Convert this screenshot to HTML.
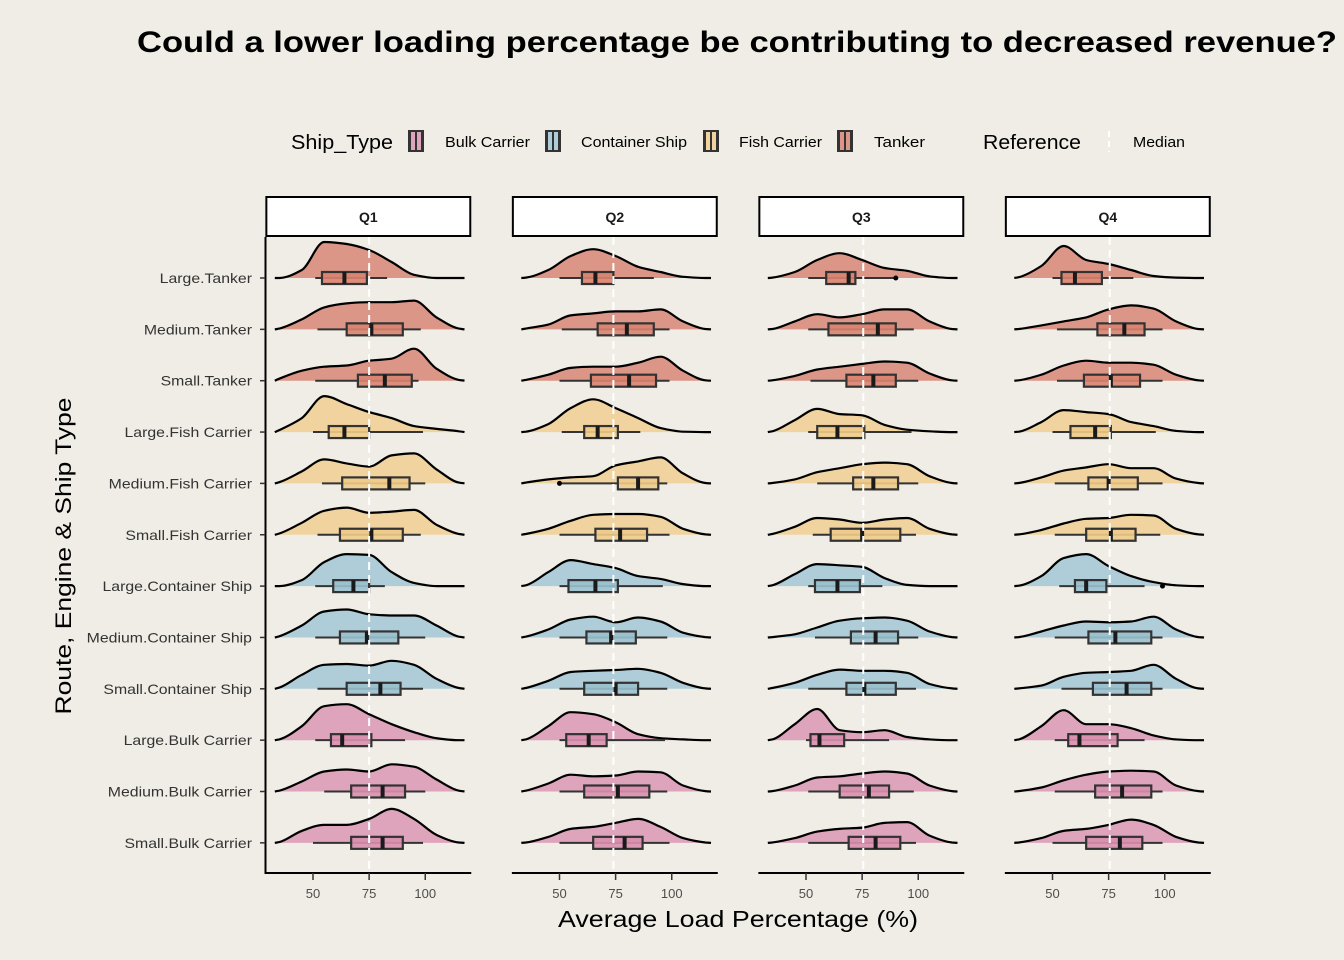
<!DOCTYPE html>
<html><head><meta charset="utf-8">
<style>
html,body{margin:0;padding:0;background:#EFEDE5;}
svg{display:block;font-family:"Liberation Sans",Arial,sans-serif;}
</style></head>
<body>
<svg id="chart" width="1344" height="960" viewBox="0 0 1344 960">
<rect x="0" y="0" width="1344" height="960" fill="#EFEDE5"/>
<text x="137" y="52" font-size="30" font-weight="bold" fill="#000" textLength="1200" lengthAdjust="spacingAndGlyphs">Could a lower loading percentage be contributing to decreased revenue?</text>
<g>
  <text x="291" y="149" font-size="20" fill="#000" textLength="102" lengthAdjust="spacingAndGlyphs">Ship_Type</text>
  <g>
    <rect x="408" y="130" width="16" height="22" fill="#333"/>
    <rect x="411" y="132" width="10" height="18" fill="#DEA4BC"/>
    <line x1="416" y1="132" x2="416" y2="150" stroke="#333" stroke-width="2"/>
    <text x="445" y="147" font-size="15" fill="#000" textLength="85" lengthAdjust="spacingAndGlyphs">Bulk Carrier</text>
  </g>
  <g>
    <rect x="545" y="130" width="16" height="22" fill="#333"/>
    <rect x="548" y="132" width="10" height="18" fill="#AECDD8"/>
    <line x1="553" y1="132" x2="553" y2="150" stroke="#333" stroke-width="2"/>
    <text x="581" y="147" font-size="15" fill="#000" textLength="106" lengthAdjust="spacingAndGlyphs">Container Ship</text>
  </g>
  <g>
    <rect x="703" y="130" width="16" height="22" fill="#333"/>
    <rect x="706" y="132" width="10" height="18" fill="#F0D39F"/>
    <line x1="711" y1="132" x2="711" y2="150" stroke="#333" stroke-width="2"/>
    <text x="739" y="147" font-size="15" fill="#000" textLength="83" lengthAdjust="spacingAndGlyphs">Fish Carrier</text>
  </g>
  <g>
    <rect x="837" y="130" width="16" height="22" fill="#333"/>
    <rect x="840" y="132" width="10" height="18" fill="#DC9687"/>
    <line x1="845" y1="132" x2="845" y2="150" stroke="#333" stroke-width="2"/>
    <text x="874" y="147" font-size="15" fill="#000" textLength="51" lengthAdjust="spacingAndGlyphs">Tanker</text>
  </g>
  <text x="983" y="149" font-size="20" fill="#000" textLength="98" lengthAdjust="spacingAndGlyphs">Reference</text>
  <g>
    <line x1="1109" y1="131" x2="1109" y2="152" stroke="#fff" stroke-width="2" stroke-dasharray="6,4"/>
    <text x="1133" y="147" font-size="15" fill="#000" textLength="52" lengthAdjust="spacingAndGlyphs">Median</text>
  </g>
</g>
<text transform="translate(71,556) rotate(-90)" text-anchor="middle" font-size="22" fill="#000" textLength="317" lengthAdjust="spacingAndGlyphs">Route, Engine &amp; Ship Type</text>
<text x="738" y="927" text-anchor="middle" font-size="23" fill="#000" textLength="360" lengthAdjust="spacingAndGlyphs">Average Load Percentage (%)</text>
<g id="plot"></g>
</svg>
<script>
const quarters = ["Q1","Q2","Q3","Q4"];
const rowLabels = ["Large.Tanker","Medium.Tanker","Small.Tanker","Large.Fish Carrier","Medium.Fish Carrier","Small.Fish Carrier","Large.Container Ship","Medium.Container Ship","Small.Container Ship","Large.Bulk Carrier","Medium.Bulk Carrier","Small.Bulk Carrier"];
const rowTypes = ["Tanker","Tanker","Tanker","Fish","Fish","Fish","Container","Container","Container","Bulk","Bulk","Bulk"];
const densityGrid = [35,45,55,65,75,85,95,105,115];
const xTicks = [50,75,100];
const medianRef = [75,74,75.5,75.5];
const densQ1 = [
[0,.2,.9,.85,.7,.4,.08,0,0],
[.02,.25,.55,.65,.68,.68,.72,.3,.02],
[.05,.25,.35,.38,.5,.55,.8,.3,.02],
[.05,.35,.9,.7,.5,.35,.15,.08,.02],
[.03,.3,.6,.5,.42,.7,.75,.35,.02],
[.03,.3,.6,.68,.55,.58,.62,.25,.02],
[0,.15,.6,.8,.78,.35,.08,0,0],
[.03,.3,.65,.7,.58,.55,.55,.3,.02],
[.03,.35,.6,.62,.58,.7,.6,.25,.02],
[.02,.35,.85,.9,.65,.4,.2,.05,0],
[.02,.25,.5,.55,.5,.68,.62,.3,.02],
[.02,.3,.45,.45,.6,.85,.6,.2,.01]];
const densQ2 = [
[.01,.2,.55,.72,.55,.28,.15,.03,0],
[.02,.12,.35,.4,.45,.45,.5,.2,.01],
[.02,.15,.32,.35,.35,.45,.6,.25,.01],
[.01,.2,.6,.82,.6,.35,.1,.01,0],
[.02,.1,.15,.18,.45,.55,.65,.25,.01],
[.02,.15,.35,.5,.52,.52,.45,.15,.01],
[.02,.35,.65,.55,.45,.25,.18,.05,0],
[.02,.2,.45,.52,.38,.5,.4,.12,.01],
[.02,.2,.42,.45,.47,.5,.4,.15,.01],
[.02,.35,.7,.65,.45,.15,.05,.02,0],
[.02,.2,.42,.38,.4,.5,.48,.15,.01],
[.01,.15,.35,.4,.5,.6,.4,.12,.01]];
const densQ3 = [
[.01,.15,.45,.62,.45,.25,.18,.04,0],
[.01,.2,.38,.3,.38,.5,.5,.2,.01],
[.01,.12,.28,.35,.42,.48,.45,.18,.01],
[.02,.3,.58,.45,.42,.18,.06,.02,0],
[.01,.1,.28,.38,.48,.52,.48,.18,.01],
[.02,.2,.42,.38,.3,.38,.42,.15,.01],
[.02,.3,.55,.52,.48,.2,.03,0,0],
[.01,.08,.25,.42,.48,.5,.42,.15,.01],
[.02,.15,.35,.48,.45,.45,.4,.12,.01],
[.02,.4,.78,.25,.2,.25,.08,.02,0],
[.01,.15,.35,.38,.45,.5,.45,.15,.01],
[.01,.12,.28,.35,.38,.5,.52,.18,.01]];
const densQ4 = [
[.02,.3,.8,.45,.35,.2,.05,.01,0],
[.01,.1,.2,.3,.5,.6,.52,.2,.01],
[.01,.15,.38,.5,.45,.45,.4,.15,.01],
[.01,.25,.55,.5,.45,.25,.15,.03,0],
[.01,.15,.32,.4,.48,.38,.38,.12,.01],
[.01,.12,.28,.4,.42,.5,.48,.15,.01],
[.01,.25,.7,.8,.5,.25,.1,.02,0],
[.01,.15,.3,.4,.38,.4,.52,.2,.01],
[.01,.08,.3,.4,.42,.45,.6,.25,.01],
[.02,.35,.75,.4,.4,.3,.12,.02,0],
[.01,.1,.28,.42,.5,.52,.5,.15,.01],
[.01,.12,.3,.35,.45,.58,.45,.15,.01]];
// box stats: [whiskerLow, q1, median, q3, whiskerHigh]
const boxQ1 = [[51,54,64,74,83],[52,65,76,90,98],[51,70,82,94,97],[50,57,64,75,99],[54,63,84,93,100],[52,62,76,90,98],[51,59,68,75,82],[51,62,74,88,100],[52,65,80,89,99],[51,58,63,76,91],[55,67,81,91,100],[50,67,81,90,99]];
const boxQ2 = [[50,60,66,74,92],[51,67,80,92,99],[50,64,81,93,99],[51,61,67,76,86],[51,76,85,94,98],[50,66,77,89,99],[50,54,66,76,96],[50,62,73,84,98],[50,61,75,85,98],[50,53,63,71,97],[50,61,76,90,98],[50,65,79,87,99]];
const boxQ3 = [[51,59,69,72,89],[51,60,82,90,98],[52,68,80,90,100],[51,55,64,76,97],[55,71,80,91,100],[53,61,75,92,99],[51,54,64,74,84],[54,70,81,91,100],[51,68,76,90,99],[50,52,56,67,87],[51,65,78,87,98],[51,69,81,92,99]];
const boxQ4 = [[50,54,60,72,86],[52,70,82,91,99],[52,64,76,89,99],[50,58,69,76,96],[51,66,75,88,99],[51,65,76,87,98],[53,60,65,74,91],[51,66,78,94,99],[54,68,83,94,99],[51,57,62,79,91],[51,69,81,94,99],[50,65,80,90,99]];
const outliers = [[1,4,50],[2,0,90],[3,6,99]]; // [panelIndex,rowIndex,value]

const dens = [densQ1,densQ2,densQ3,densQ4];
const boxes = [boxQ1,boxQ2,boxQ3,boxQ4];
const fills = {Tanker:"#DC9687",Fish:"#F0D39F",Container:"#AECDD8",Bulk:"#DEA4BC"};
const boxFills = {Tanker:"#D9826F",Fish:"#EFCB8A",Container:"#99C0CE",Bulk:"#D98FAE"};
const NS="http://www.w3.org/2000/svg";
const plot=document.getElementById('plot');
const panelX0=[313,559.5,806,1052.5], pxPerUnit=2.245;
const rowY0=278, rowStep=51.35, hScale=40, yTop=237, yBottom=873;
function xScale(p,v){return panelX0[p]+(v-50)*pxPerUnit;}
function yScale(r){return rowY0+r*rowStep;}
function mk(tag,attrs,parent){const e=document.createElementNS(NS,tag);for(const k in attrs)e.setAttribute(k,attrs[k]);(parent||plot).appendChild(e);return e;}
// monotone cubic (Fritsch-Carlson) path, no overshoot
function monoPath(pts){
 const n=pts.length,dx=[],m=[],t=new Array(n);
 for(let i=0;i<n-1;i++){dx[i]=pts[i+1][0]-pts[i][0];m[i]=(pts[i+1][1]-pts[i][1])/dx[i];}
 t[0]=m[0];t[n-1]=m[n-2];
 for(let i=1;i<n-1;i++){ if(m[i-1]*m[i]<=0)t[i]=0; else {const w1=2*dx[i]+dx[i-1],w2=dx[i]+2*dx[i-1];t[i]=(w1+w2)/(w1/m[i-1]+w2/m[i]);} }
 let d="M"+pts[0][0].toFixed(1)+","+pts[0][1].toFixed(1);
 for(let i=0;i<n-1;i++){const h=dx[i]/3;
  d+=" C"+(pts[i][0]+h).toFixed(1)+","+(pts[i][1]+t[i]*h).toFixed(1)+" "+(pts[i+1][0]-h).toFixed(1)+","+(pts[i+1][1]-t[i+1]*h).toFixed(1)+" "+pts[i+1][0].toFixed(1)+","+pts[i+1][1].toFixed(1);}
 return d;}

const ya=mk('line',{x1:265.5,y1:yTop,x2:265.5,y2:yBottom+1,stroke:"#000","stroke-width":2});


rowLabels.forEach((lab,r)=>{
 const y=yScale(r);
 const t=mk('line',{x1:260,y1:y,x2:265,y2:y,stroke:"#333","stroke-width":1.5});
 
 
 const tx=mk('text',{x:252,y:y+5,"text-anchor":"end","font-size":14,fill:"#333"});
 tx.textContent=lab;
 
 
 const L=tx.getComputedTextLength();
 if(L>0){tx.setAttribute('textLength',(L*1.13).toFixed(1));tx.setAttribute('lengthAdjust','spacingAndGlyphs');}
});

quarters.forEach((q,p)=>{
 const g=mk('g',{});
 
 
 const left=xScale(p,29)-0.5, right=xScale(p,120.5);
 const strip=mk('rect',{x:left+1,y:197,width:right-left-2,height:39,fill:"#fff",stroke:"#000","stroke-width":2},g);
 
 
 const st=mk('text',{x:(left+right)/2,y:222,"text-anchor":"middle","font-size":14,"font-weight":"bold",fill:"#1a1a1a"},g);
 st.textContent=q;
 
 
 const xa=mk('line',{x1:left,y1:yBottom,x2:right,y2:yBottom,stroke:"#000","stroke-width":2},g);
 
 
 xTicks.forEach(v=>{
  const x=xScale(p,v);
  const tk=mk('line',{x1:x,y1:yBottom,x2:x,y2:yBottom+7,stroke:"#333","stroke-width":1.5},g);
  
  
  const tl=mk('text',{x:x,y:898,"text-anchor":"middle","font-size":13,fill:"#4d4d4d"},g);
  tl.textContent=v;
  
  
 });
 rowLabels.forEach((lab,r)=>{
  const base=yScale(r), type=rowTypes[r];
  const vals=dens[p][r];
  const pts=[[xScale(p,33),base]];
  densityGrid.forEach((gv,i)=>pts.push([xScale(p,gv),base-vals[i]*hScale]));
  pts.push([xScale(p,117.5),base]);
  const d=monoPath(pts);
  const area=mk('path',{d:d+" Z",fill:fills[type],stroke:"none"},g);
  
  
  const line=mk('path',{d:d,fill:"none",stroke:"#000","stroke-width":2.2,"stroke-linejoin":"round"},g);
  
  
  const b=boxes[p][r];
  const wl=mk('line',{x1:xScale(p,b[0]),y1:base,x2:xScale(p,b[4]),y2:base,stroke:"#333","stroke-width":2},g);
  
  
  const bx=mk('rect',{x:xScale(p,b[1]),y:base-6,width:xScale(p,b[3])-xScale(p,b[1]),height:12,fill:boxFills[type],"fill-opacity":0.9,stroke:"#333","stroke-width":2.2},g);
  
  
  const md=mk('line',{x1:xScale(p,b[2]),y1:base-6,x2:xScale(p,b[2]),y2:base+6,stroke:"#1a1a1a","stroke-width":4},g);
  
  
 });
 outliers.filter(o=>o[0]===p).forEach(o=>{
  const c=mk('circle',{cx:xScale(p,o[2]),cy:yScale(o[1]),r:2.5,fill:"#000"},g);
  
  
 });
 const ml=mk('line',{x1:xScale(p,medianRef[p]),y1:yTop,x2:xScale(p,medianRef[p]),y2:yBottom-1,stroke:"#fff","stroke-width":2,"stroke-dasharray":"8,5"},g);
 
 
});
</script>
</body></html>
